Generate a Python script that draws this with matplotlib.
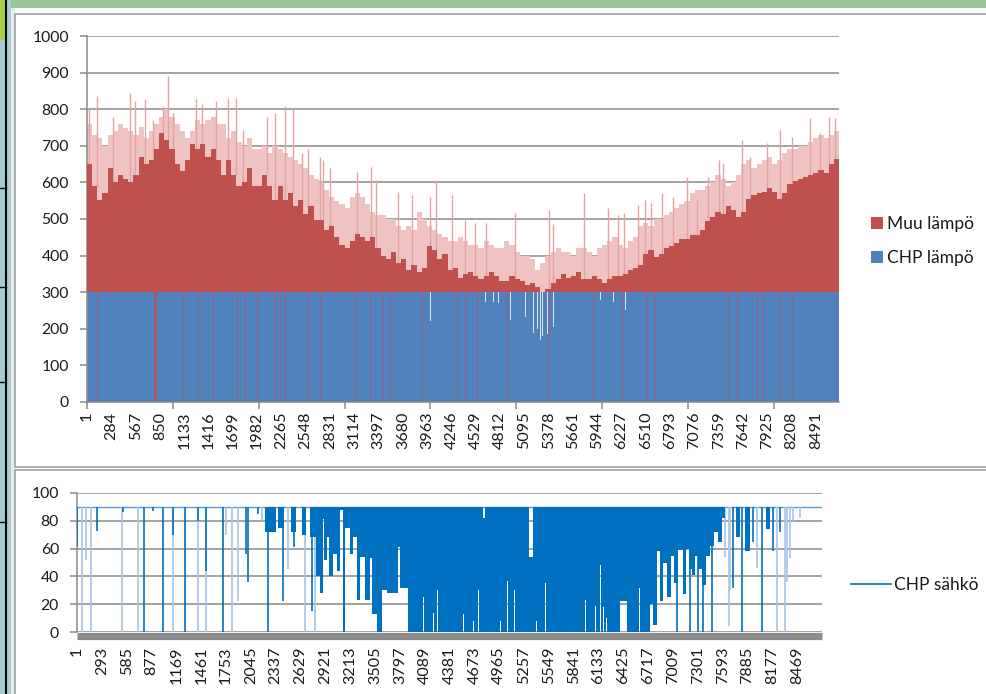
import matplotlib
matplotlib.use('Agg')
import matplotlib.pyplot as plt
from matplotlib.patches import Rectangle, Patch
from matplotlib.lines import Line2D
import numpy as np

plt.rcParams['font.family'] = ['Lato', 'DejaVu Sans']

# ---------------- data ----------------
N_HOURS = 8760
BIN = 60  # hours per bin of the heat chart

# total heat demand: dense (dark) level per 60 h bin
total_base = [650, 590, 552, 570, 640, 600, 620, 610, 600, 620,
              670, 650, 660, 690, 735, 715, 690, 650, 630, 660,
              705, 690, 705, 670, 690, 660, 620, 660, 620, 590,
              600, 640, 590, 590, 620, 590, 552, 590, 552, 570,
              535, 552, 515, 535, 497, 497, 470,
              480, 450, 430, 420, 440, 460, 450, 440, 450, 420,
              400, 390, 410, 380, 390, 360, 375, 355, 365, 425,
              415, 390, 405, 360, 365, 340, 350, 355, 345, 335,
              345, 355, 345, 330, 330, 345, 335, 330, 320, 325,
              315, 300, 310, 325, 335, 350, 340, 345, 355, 335,
              335, 345, 335, 325, 335, 345, 345, 350, 360, 365,
              375, 405, 415, 395, 405, 420, 425, 435, 445, 445,
              455, 455, 470, 495, 505, 520, 515, 535, 525, 505,
              520, 555, 565, 570, 575, 585, 575, 555, 570, 595,
              605, 610, 615, 620, 625, 635, 625, 650, 665]
# upper level of the lighter, less frequent hours per 60 h bin
total_pale = [760, 730, 720, 700, 730, 740, 760, 750, 740, 730,
              750, 720, 740, 760, 780, 800, 780, 760, 740, 720,
              740, 770, 760, 770, 780, 760, 760, 720, 740, 710,
              700, 720, 690, 690, 700, 680, 700, 690, 680, 670,
              660, 650, 640, 620, 610, 600, 580,
              560, 550, 540, 530, 560, 570, 560, 540, 520, 510,
              510, 500, 500, 480, 470, 480, 470, 520, 500, 480,
              470, 460, 450, 440, 440, 450, 440, 430, 430, 420,
              440, 430, 420, 420, 440, 430, 410, 400, 400, 390,
              360, 380, 400, 410, 420, 410, 410, 400, 420, 420,
              410, 400, 420, 430, 440, 450, 430, 420, 440, 450,
              480, 490, 480, 500, 500, 510, 520, 530, 540, 550,
              570, 580, 580, 590, 600, 620, 610, 590, 600, 620,
              650, 660, 640, 650, 660, 670, 650, 660, 680, 690,
              690, 700, 700, 710, 720, 730, 720, 730, 740]
chp_heat = 300

spike_hours = [27, 113, 307, 501, 559, 676, 773, 890, 940, 1006, 1270, 1336, 1503,
               1646, 1736, 1821, 2093, 2190, 2306, 2395, 2500, 2578, 2714, 2753, 2831,
               3142, 3309, 3367, 3627, 3782, 3996, 4066, 4249, 4404, 4520, 4648, 4986,
               5386, 5433, 5790, 6073, 6190, 6256, 6423, 6501, 6571, 6695, 6830, 6986,
               7103, 7238, 7366, 7413, 7627, 7724, 7918, 8073, 8210, 8423, 8540, 8648,
               8714]
spike_vals = [800, 835, 780, 845, 822, 827, 770, 810, 890, 790, 827, 815, 822,
              831, 831, 743, 780, 790, 810, 800, 680, 690, 670, 661, 638,
              629, 643, 607, 575, 566, 560, 607, 566, 497, 490, 488, 516,
              525, 485, 570, 530, 512, 516, 539, 552, 543, 570, 561, 615,
              552, 615, 661, 652, 716, 670, 707, 743, 725, 775, 734, 780,
              775]

# hours where CHP heat was 0 (red shows through the blue) and their length
outage_hours = [113, 792, 1122, 1297, 1471, 1744, 1841, 1977, 2190, 2248, 2307, 2578,
                2714, 3122, 3297, 3452, 3530, 3899, 4307, 4404, 4540, 4889, 5374, 5898,
                6229, 6520, 6617, 7471, 7569, 7802, 7879, 8073, 8209]
outage_len = [5, 20, 5, 5, 5, 6, 5, 5, 5, 5, 5, 5,
              5, 5, 5, 5, 5, 5, 5, 5, 5, 5, 5, 5,
              5, 5, 5, 5, 5, 5, 5, 5, 5]

# summer hours where total demand (= CHP heat) fell below 300
dip_hours = [3996, 4190, 4365, 4424, 4637, 4690, 4730, 4792, 4928, 5103, 5196, 5243,
             5277, 5300, 5330, 5359, 5433, 5589, 5705, 5822, 5976, 6131, 6268, 6346]
dip_vals = [220, 274, 224, 265, 274, 280, 274, 270, 224, 233, 188, 200,
            170, 180, 175, 185, 206, 242, 242, 274, 279, 274, 251, 283]

top_labels = [1, 284, 567, 850, 1133, 1416, 1699, 1982, 2265, 2548, 2831, 3114, 3397,
              3680, 3963, 4246, 4529, 4812, 5095, 5378, 5661, 5944, 6227, 6510, 6793,
              7076, 7359, 7642, 7925, 8208, 8491]
bottom_labels = [1, 293, 585, 877, 1169, 1461, 1753, 2045, 2337, 2629, 2921, 3213,
                 3505, 3797, 4089, 4381, 4673, 4965, 5257, 5549, 5841, 6133, 6425,
                 6717, 7009, 7301, 7593, 7885, 8177, 8469]

# CHP electricity: full output level, lower envelope of the dense oscillating region
sahko_full = 90
sahko_envelope = [
    (0, 90), (2211, 72), (2340, 90), (2364, 75), (2434, 90), (2517, 72), (2575, 90),
    (2646, 70), (2693, 90), (2740, 68), (2811, 40), (2858, 28), (2889, 81), (2900, 52),
    (2940, 68), (2964, 40), (3011, 56), (3058, 44), (3093, 88), (3128, 0), (3152, 75),
    (3210, 56), (3246, 68), (3293, 23), (3328, 54), (3387, 23), (3446, 53), (3469, 13),
    (3528, 0), (3587, 30), (3646, 28), (3775, 61), (3798, 32), (3893, 0),
    (4072, 25), (4080, 0), (4190, 14), (4198, 0), (4237, 30), (4245, 0), (4348, 20),
    (4356, 0), (4543, 13), (4551, 0), (4660, 8), (4668, 0), (4719, 30), (4727, 0),
    (4775, 0), (4799, 0), (4974, 8), (4982, 0), (5060, 37), (5068, 0), (5124, 13),
    (5132, 0), (5143, 30), (5151, 0), (5316, 0), (5363, 0), (5398, 8), (5406, 0),
    (5504, 35), (5512, 0), (5524, 23), (5532, 0), (5974, 23), (5982, 0), (6092, 19),
    (6100, 0), (6150, 48), (6158, 0), (6189, 18), (6197, 0), (6221, 10), (6229, 0),
    (6288, 17), (6296, 0), (6386, 22), (6464, 0), (6523, 37), (6531, 0), (6613, 32),
    (6621, 0), (6700, 66), (6708, 0), (6738, 20), (6774, 5), (6821, 58), (6856, 22),
    (6891, 50), (6938, 25), (6985, 55), (7021, 35), (7068, 59), (7127, 27), (7162, 60),
    (7197, 45), (7233, 41), (7268, 55), (7303, 45), (7350, 34), (7397, 55), (7444, 62),
    (7491, 72), (7538, 65), (7585, 82), (7620, 90), (7750, 68), (7797, 90), (7856, 58),
    (7915, 90), (8103, 74), (8150, 90), (8760, 90)]
# short periods where the output stayed below full level
sahko_top_gaps = {4775: 82, 5316: 54}

# single drops (dark = several hours, pale = single hour)
dark_drop_hours = [1, 232, 537, 788, 890, 1008, 1132, 1274, 1426, 1517, 1720, 1982,
                   2005, 2125, 2250, 2419, 2546, 2764, 7052, 7209, 7299, 7365, 7464,
                   7718, 7817, 7953, 8052, 8181, 8267]
dark_drop_low = [61, 73, 86, 0, 87, 0, 70, 0, 80, 44, 0, 56,
                 36, 85, 0, 22, 61, 15, 0, 0, 0, 0, 0,
                 32, 0, 65, 0, 58, 72]
pale_drop_hours = [55, 106, 161, 529, 721, 1132, 1423, 1517, 1749, 1819, 1897, 2172,
                   2481, 2681, 2799, 7620, 7671, 7680, 7870, 7993, 8228, 8326, 8346,
                   8385, 8420, 8502]
pale_drop_low = [0, 52, 0, 0, 0, 0, 0, 0, 70, 0, 22, 80,
                 45, 0, 0, 54, 4, 30, 80, 46, 0, 0, 36,
                 53, 80, 82]

# ---------------- styling ----------------
RED = '#c0504d'
PALE = '#eec3c2'
SPIKE = '#e3a3a1'
BLUE = '#4f81bd'
OUTAGE = '#93607f'
DIP = '#dbe5f1'
LINE_BLUE = '#0070c0'
PALE_BLUE = '#a8c5e8'
GRID = '#8a8a8a'
TXT = '#1a1a1a'
W, H = 987, 694


def fx(x):
    return x / W


def fy(y):
    return 1 - y / H


fig = plt.figure(figsize=(W / 100, H / 100), dpi=100)
fig.patch.set_facecolor('white')

# document frame around the charts
fig.add_artist(Rectangle((0, fy(8)), 1, 8 / H, transform=fig.transFigure,
                         facecolor='#98c79a', edgecolor='none', zorder=0))
fig.add_artist(Rectangle((0, 0), fx(11), 1, transform=fig.transFigure,
                         facecolor='#a7cdd0', edgecolor='none', zorder=0))
fig.add_artist(Rectangle((0, fy(40)), fx(5), 40 / H, transform=fig.transFigure,
                         facecolor='#a6cf4a', edgecolor='none', zorder=0))
fig.add_artist(Line2D([fx(6), fx(6)], [0, 1], transform=fig.transFigure,
                      color='black', lw=1.5))
for yy in (188, 287, 382, 522):
    fig.add_artist(Line2D([0, fx(6)], [fy(yy), fy(yy)], transform=fig.transFigure,
                          color='black', lw=1))
fig.add_artist(Rectangle((fx(11), 0), fx(4), fy(8), transform=fig.transFigure,
                         facecolor='#e4ecec', edgecolor='none', zorder=0))
fig.add_artist(Rectangle((fx(15), fy(467)), 1, (467 - 14) / H, transform=fig.transFigure,
                         facecolor='white', edgecolor='#a0a0a0', lw=1.2, zorder=0))
fig.add_artist(Rectangle((fx(15), fy(710)), 1, (710 - 470) / H, transform=fig.transFigure,
                         facecolor='white', edgecolor='#a0a0a0', lw=1.2, zorder=0))

# ---------------- top chart: heat ----------------
ax = fig.add_axes([fx(87), fy(402), fx(839) - fx(87), fy(36) - fy(402)])
ax.set_facecolor('none')
nb = len(total_base)
left = np.arange(nb) * BIN
widths = np.minimum(BIN, N_HOURS - left)
base = np.array(total_base, dtype=float)
pale = np.array(total_pale, dtype=float)
chp = np.full(nb, chp_heat, dtype=float)

ax.bar(left, chp, width=widths, align='edge', color=BLUE, linewidth=0, zorder=2)
ax.bar(left, pale - base, bottom=base, width=widths, align='edge', color=PALE,
       linewidth=0, zorder=2)
ax.bar(left, base - chp, bottom=chp, width=widths, align='edge', color=RED,
       linewidth=0, zorder=3)
sb = [total_base[min(h // BIN, nb - 1)] for h in spike_hours]
ax.vlines(spike_hours, sb, spike_vals, color=SPIKE, lw=1.0, zorder=2.5)
ax.vlines(outage_hours, 0, chp_heat, colors=[RED if n > 10 else OUTAGE for n in outage_len],
          linewidths=[2.0 if n > 10 else 0.9 for n in outage_len], alpha=0.9, zorder=4)
ax.bar(dip_hours, [chp_heat - v for v in dip_vals], bottom=dip_vals, width=8,
       align='edge', color=DIP, linewidth=0, zorder=4)

ax.set_xlim(0, N_HOURS)
ax.set_ylim(0, 1000)
ax.set_yticks(range(0, 1001, 100))
ax.yaxis.grid(True, color=GRID, lw=1.1, zorder=0)
ax.set_axisbelow(True)
for s in ('top', 'right'):
    ax.spines[s].set_visible(False)
for s in ('left', 'bottom'):
    ax.spines[s].set_color(GRID)
    ax.spines[s].set_linewidth(1.1)
ax.spines['bottom'].set_zorder(5)
ax.set_xticks(range(0, N_HOURS, 1000))
ax.set_xticklabels([])
ax.set_xticks([c - 0.5 for c in top_labels], minor=True)
ax.set_xticklabels([str(c) for c in top_labels], minor=True, rotation=90,
                   fontsize=11.6, color=TXT)
ax.tick_params(axis='x', which='major', length=5, width=1.1, color=GRID, direction='out')
ax.tick_params(axis='x', which='minor', length=0, pad=7)
ax.tick_params(axis='y', length=5, width=1.1, color=GRID, pad=8, labelsize=11.3,
               labelcolor=TXT)

fig.legend(handles=[Patch(facecolor=RED, label='Muu lämpö'),
                    Patch(facecolor=BLUE, label='CHP lämpö')],
           loc='center left', bbox_to_anchor=(fx(855), fy(241)), frameon=False,
           fontsize=12.5, handlelength=0.7, handleheight=0.7, handletextpad=0.25,
           labelspacing=1.05, labelcolor=TXT)

# ---------------- bottom chart: CHP electricity ----------------
ax2 = fig.add_axes([fx(77), fy(632), fx(822) - fx(77), fy(493) - fy(632)])
ax2.set_facecolor('none')
env_h = [p[0] for p in sahko_envelope]
env_lo = [p[1] for p in sahko_envelope]
env_hi = [sahko_top_gaps.get(h, sahko_full) for h in env_h]
ax2.hlines(sahko_full, 0, N_HOURS, color='#5d9bd8', lw=1.0, zorder=2)
ax2.fill_between(env_h, env_lo, env_hi, step='post', color=LINE_BLUE, linewidth=0,
                 zorder=3)
ax2.vlines(pale_drop_hours, pale_drop_low, sahko_full, color=PALE_BLUE, lw=1.2, zorder=2.5)
ax2.vlines(dark_drop_hours, dark_drop_low, sahko_full, color=LINE_BLUE, lw=1.2, zorder=3)

ax2.set_xlim(0, N_HOURS)
ax2.set_ylim(0, 100)
ax2.set_yticks(range(0, 101, 20))
ax2.yaxis.grid(True, color=GRID, lw=1.1, zorder=0)
ax2.set_axisbelow(True)
for s in ('top', 'right'):
    ax2.spines[s].set_visible(False)
ax2.spines['left'].set_color(GRID)
ax2.spines['left'].set_linewidth(1.1)
ax2.spines['bottom'].set_color('#8c8c8c')
ax2.spines['bottom'].set_linewidth(5.2)
ax2.spines['bottom'].set_position(('outward', 2.6))
ax2.spines['bottom'].set_capstyle('butt')
ax2.set_xticks([c - 0.5 for c in bottom_labels])
ax2.set_xticklabels([str(c) for c in bottom_labels], rotation=90, fontsize=11.6,
                    color=TXT)
ax2.tick_params(axis='x', length=0, pad=8)
ax2.tick_params(axis='y', length=5, width=1.1, color=GRID, pad=8, labelsize=11.3,
                labelcolor=TXT)

fig.legend(handles=[Line2D([], [], color=LINE_BLUE, lw=1.2, label='CHP sähkö')],
           loc='center left', bbox_to_anchor=(fx(835), fy(585)), frameon=False,
           fontsize=12.5, handlelength=2.3, handletextpad=0.2, labelcolor=TXT)

fig.savefig('out.png', dpi=100)
